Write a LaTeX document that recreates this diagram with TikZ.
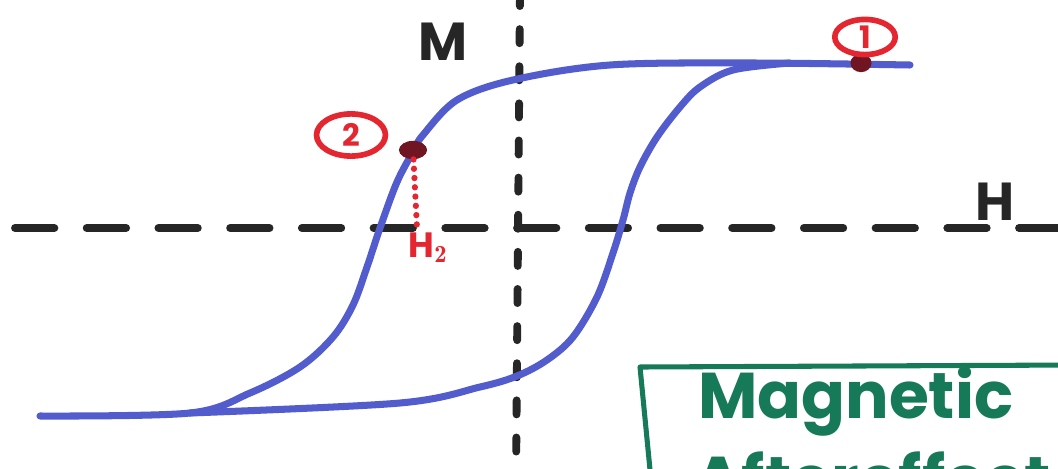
\documentclass[tikz,border=0pt]{standalone}
\usepackage{fontspec}
\newfontfamily\handfont{Poppins}
\usetikzlibrary{shapes.geometric}

\definecolor{loopblue}{RGB}{82,92,205}
\definecolor{markred}{RGB}{228,38,48}
\definecolor{dotred}{RGB}{112,22,34}
\definecolor{boxgreen}{RGB}{22,122,88}

\begin{document}
\begin{tikzpicture}[
  x=0.025cm, y=-0.025cm,
  axis/.style={line width=5.6pt, line cap=round, black!85},
  hyst/.style={line width=5pt, line cap=round, loopblue},
  dotpt/.style={ellipse, fill=dotred, inner sep=0pt},
  ring/.style={ellipse, draw=markred, line width=4pt, text=markred, inner sep=0pt, font=\handfont\bfseries\fontsize{22}{22}\selectfont},
  axlabel/.style={font=\handfont\bfseries\fontsize{38}{38}\selectfont, text=black!85},
  note/.style={font=\handfont\bfseries\fontsize{46}{46}\selectfont, text=boxgreen, anchor=base west, inner sep=0pt}
]
\useasboundingbox (0,0) rectangle (1058,468);
\clip (0,0) rectangle (1058,468);
\fill[white] (0,0) rectangle (1058,468);

% axes
\coordinate (hleft) at (15,228);
\coordinate (hright) at (1075,228);
\coordinate (vtop) at (520,-8);
\coordinate (vbot) at (516,480);
\draw[axis, dash pattern=on 28pt off 23pt] (hleft) -- (hright);
\draw[axis, dash pattern=on 10pt off 16.4pt] (vtop) -- (vbot);
\node[axlabel] (lblM) at (443,42) {M};
\node[axlabel] (lblH) at (995,202) {H};

% hysteresis loop
\draw[hyst] plot[smooth, tension=0.55] coordinates {
  (40,416) (190,413) (250,393) (300,367) (333,337) (353,305) (367,267)
  (380,228) (397,182) (414,150) (423,135) (457,100) (513,80) (610,65)
  (750,63) (910,65)};
\draw[hyst] plot[smooth, tension=0.55] coordinates {
  (190,413) (400,403) (480,387) (517,376) (547,360) (573,337) (597,297)
  (613,253) (623,220) (630,193) (640,167) (657,137) (680,107) (700,87)
  (733,70) (790,63)};

% marked points
\node[dotpt, minimum width=20pt, minimum height=13pt] (p2) at (413,150) {};
\node[dotpt, minimum width=15pt, minimum height=13pt] (p1) at (861,63) {};
\node[ring, minimum width=49pt, minimum height=30pt] (ring2) at (351,135) {2};
\node[ring, minimum width=43pt, minimum height=25pt] (ring1) at (865,37) {1};

\coordinate (h2foot) at (417,228);
\draw[markred, line width=4.4pt, line cap=round, dash pattern=on 0.1pt off 6.5pt] (p2) -- (h2foot);
\node[text=markred, font=\handfont\bfseries\fontsize{25}{25}\selectfont] (lblH2) at (428,248) {H$_{\mathbf 2}$};

% note box
\coordinate (boxbl) at (651,480);
\coordinate (boxtl) at (640,367);
\coordinate (boxtr) at (1075,365);
\draw[boxgreen, line width=3.6pt, line join=round] (boxbl) -- (boxtl) -- (boxtr);
\node[note] (note1) at (698,418) {Magnetic};
\node[note] (note2) at (694,502) {Aftereffect};
\end{tikzpicture}
\end{document}
